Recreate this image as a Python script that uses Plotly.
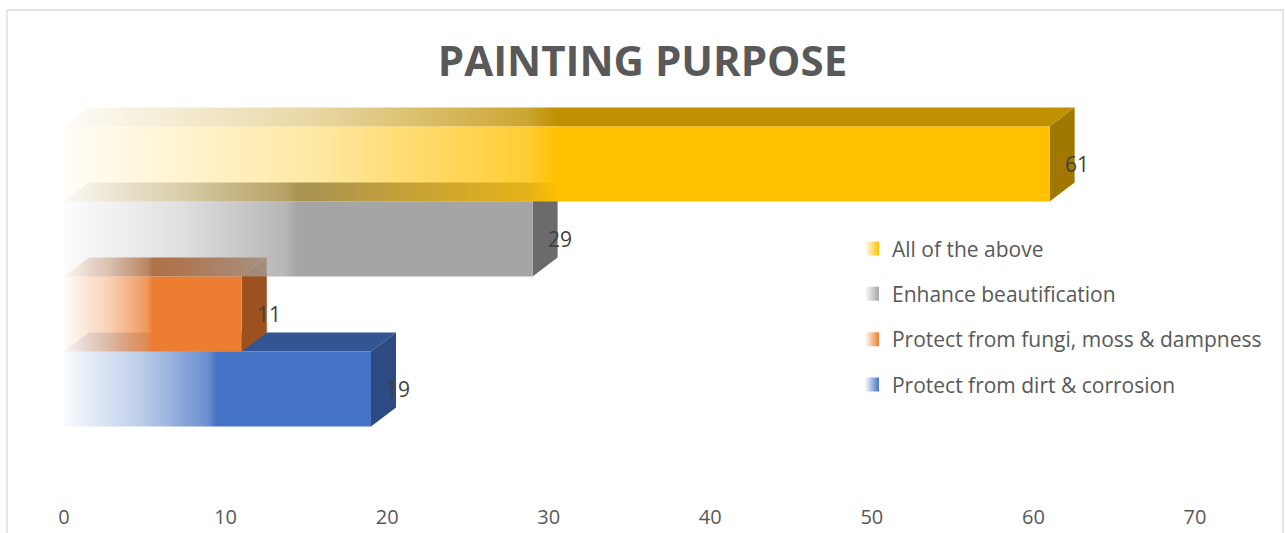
import plotly.graph_objects as go

# Survey answers, bottom to top on the category axis
categories = [
    "Protect from dirt & corrosion",
    "Protect from fungi, moss & dampness",
    "Enhance beautification",
    "All of the above",
]
values = [19, 11, 29, 61]

# Face colours of each 3-D bar (front, top, right side)
front_colors = ["#4472C4", "#ED7D31", "#A5A5A5", "#FFC000"]
top_colors = ["#335593", "#B25E25", "#7C7C7C", "#BF9000"]
side_colors = ["#2D4B82", "#9C511F", "#6B6B6B", "#A07800"]

x_ticks = [0, 10, 20, 30, 40, 50, 60, 70]

# Depth of the extruded bars, in axis units
DX = 1.55
DY = 0.253
HALF = 0.5


def rgba(hex_color, a):
    h = hex_color.lstrip("#")
    r, g, b = int(h[0:2], 16), int(h[2:4], 16), int(h[4:6], 16)
    return f"rgba({r},{g},{b},{a})"


def fade(hex_color):
    # transparent on the left, solid from about the middle of the bar
    return [
        [0.0, rgba(hex_color, 0.03)],
        [0.25, rgba(hex_color, 0.35)],
        [0.47, rgba(hex_color, 0.8)],
        [0.50, rgba(hex_color, 1.0)],
        [1.0, rgba(hex_color, 1.0)],
    ]


NOLINE = dict(width=0, color="rgba(0,0,0,0)")
fig = go.Figure()

# Back faces first: top and right side of every bar
for i, v in enumerate(values):
    y0, y1 = i - HALF, i + HALF
    fig.add_trace(go.Scatter(
        x=[0, v, v + DX, DX, 0],
        y=[y1, y1, y1 + DY, y1 + DY, y1],
        mode="lines", fill="toself", line=NOLINE,
        fillgradient=dict(type="horizontal", colorscale=fade(top_colors[i]), start=0, stop=v),
        hoverinfo="skip", showlegend=False,
    ))
    fig.add_trace(go.Scatter(
        x=[v, v + DX, v + DX, v, v],
        y=[y0, y0 + DY, y1 + DY, y1, y0],
        mode="lines", fill="toself", line=NOLINE,
        fillcolor=side_colors[i],
        hoverinfo="skip", showlegend=False,
    ))

# Front faces on top
for i, v in enumerate(values):
    y0, y1 = i - HALF, i + HALF
    fig.add_trace(go.Scatter(
        x=[0, v, v, 0, 0],
        y=[y0, y0, y1, y1, y0],
        mode="lines", fill="toself", line=NOLINE,
        fillgradient=dict(type="horizontal", colorscale=fade(front_colors[i]), start=0, stop=v),
        name=categories[i],
        hovertemplate="%{fullData.name}: " + str(v) + "<extra></extra>",
        showlegend=False,
    ))

# Legend entries, listed from the top bar down
for i in reversed(range(len(categories))):
    fig.add_trace(go.Scatter(
        x=[None], y=[None], mode="markers",
        name=categories[i], legendgroup=categories[i],
        marker=dict(symbol="square", size=14, color="white",
                    gradient=dict(type="horizontal", color=front_colors[i]),
                    line=dict(width=0)),
        showlegend=True,
    ))

# Value labels beside each bar
for i, v in enumerate(values):
    fig.add_annotation(
        x=v, y=i, text=str(v), showarrow=False,
        xanchor="left", yanchor="middle", xshift=13,
        font=dict(family="Open Sans", size=21, color="#404040"),
    )

fig.add_shape(
    type="rect", xref="paper", yref="paper",
    x0=-0.0504, x1=1.0778, y0=-0.2, y1=1.2083,
    line=dict(color="#D9D9D9", width=1.3), fillcolor="rgba(0,0,0,0)", layer="below",
)

fig.update_layout(
    width=1285, height=533,
    margin=dict(l=64, r=90, t=95, b=30, autoexpand=False),
    paper_bgcolor="white", plot_bgcolor="white",
    title=dict(
        text="<b>PAINTING PURPOSE</b>",
        x=0.5, xref="container", xanchor="center",
        y=1 - 61 / 533, yref="container", yanchor="middle",
        font=dict(family="Open Sans", size=42, color="#595959"),
    ),
    xaxis=dict(
        range=[0, 70], tickvals=x_ticks, showgrid=False, zeroline=False,
        showline=False, ticks="", automargin=False,
        tickfont=dict(family="Open Sans", size=20, color="#595959"),
        fixedrange=True,
    ),
    yaxis=dict(range=[-1.52, 3.92], visible=False, fixedrange=True, automargin=False),
    legend=dict(
        x=0.6967, y=0.673, xanchor="left", yanchor="top",
        bgcolor="rgba(0,0,0,0)", borderwidth=0,
        font=dict(family="Open Sans", size=21, color="#595959"),
        tracegroupgap=15, itemwidth=30,
    ),
    showlegend=True,
)

fig.write_html("out.html")
